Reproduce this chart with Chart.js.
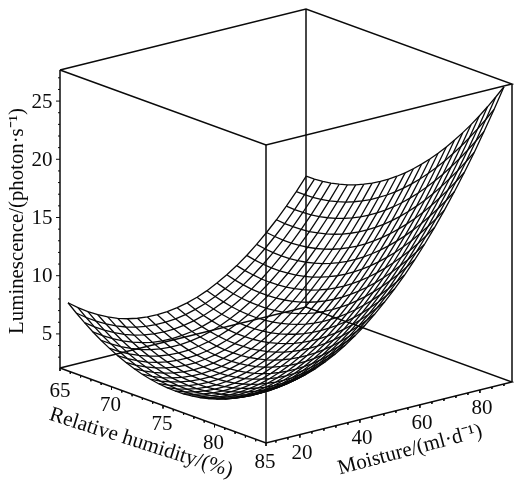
<!DOCTYPE html>
<html>
<head>
<meta charset="utf-8">
<title>Luminescence surface</title>
<script src="https://cdn.jsdelivr.net/npm/chart.js@4"></script>
<style>
    html, body { margin: 0; padding: 0; background: #fff; }
    canvas { display: block; }
</style>
</head>
<body>
<canvas id="surfaceChart" width="514" height="481"></canvas>
<script>
// Mesh coordinates
const humidity = [65.4, 66.2, 67, 67.8, 68.6, 69.4, 70.2, 71, 71.8, 72.6, 73.4, 74.2, 75, 75.8, 76.6, 77.4, 78.2, 79, 79.8, 80.6, 81.4, 82.2, 83, 83.8, 84.6];
const moisture = [10, 13.31, 16.62, 19.93, 23.23, 26.54, 29.85, 33.16, 36.47, 39.78, 43.08, 46.39, 49.7, 53.01, 56.32, 59.63, 62.93, 66.24, 69.55, 72.86, 76.17, 79.48, 82.78, 86.09, 89.4];

// Luminescence: one row per humidity, one column per moisture
const luminescence = [
    [7.72, 7.09, 6.54, 6.06, 5.66, 5.33, 5.08, 4.91, 4.81, 4.79, 4.84, 4.97, 5.17, 5.45, 5.80, 6.24, 6.74, 7.32, 7.98, 8.72, 9.53, 10.41, 11.37, 12.41, 13.52],
    [7.10, 6.50, 5.97, 5.52, 5.15, 4.84, 4.62, 4.47, 4.40, 4.41, 4.48, 4.64, 4.87, 5.17, 5.55, 6.02, 6.54, 7.15, 7.83, 8.60, 9.44, 10.34, 11.33, 12.40, 13.53],
    [6.53, 5.95, 5.46, 5.03, 4.68, 4.40, 4.21, 4.09, 4.04, 4.07, 4.18, 4.36, 4.61, 4.95, 5.35, 5.84, 6.39, 7.03, 7.74, 8.53, 9.39, 10.33, 11.34, 12.43, 13.59],
    [6.00, 5.45, 4.98, 4.58, 4.26, 4.01, 3.83, 3.74, 3.72, 3.78, 3.91, 4.12, 4.40, 4.76, 5.19, 5.71, 6.28, 6.94, 7.68, 8.50, 9.39, 10.35, 11.39, 12.51, 13.70],
    [5.53, 5.01, 4.56, 4.19, 3.89, 3.67, 3.52, 3.46, 3.46, 3.55, 3.70, 3.94, 4.24, 4.63, 5.08, 5.63, 6.24, 6.92, 7.69, 8.53, 9.45, 10.43, 11.50, 12.64, 13.86],
    [5.11, 4.61, 4.19, 3.85, 3.58, 3.38, 3.26, 3.22, 3.25, 3.37, 3.55, 3.81, 4.14, 4.55, 5.03, 5.61, 6.24, 6.95, 7.74, 8.61, 9.55, 10.57, 11.66, 12.83, 14.07],
    [4.73, 4.26, 3.87, 3.54, 3.30, 3.13, 3.04, 3.03, 3.08, 3.22, 3.43, 3.72, 4.08, 4.51, 5.02, 5.62, 6.28, 7.02, 7.83, 8.73, 9.70, 10.74, 11.86, 13.05, 14.32],
    [4.41, 3.96, 3.60, 3.30, 3.09, 2.94, 2.88, 2.89, 2.98, 3.14, 3.37, 3.69, 4.07, 4.54, 5.07, 5.70, 6.38, 7.14, 7.99, 8.91, 9.91, 10.97, 12.12, 13.34, 14.64],
    [4.13, 3.71, 3.37, 3.10, 2.91, 2.79, 2.75, 2.79, 2.91, 3.10, 3.36, 3.70, 4.11, 4.60, 5.16, 5.81, 6.52, 7.31, 8.18, 9.13, 10.15, 11.24, 12.42, 13.67, 14.99],
    [3.90, 3.51, 3.19, 2.95, 2.79, 2.70, 2.68, 2.75, 2.89, 3.10, 3.39, 3.76, 4.19, 4.71, 5.30, 5.98, 6.71, 7.53, 8.43, 9.40, 10.45, 11.57, 12.76, 14.04, 15.39],
    [3.73, 3.36, 3.08, 2.86, 2.72, 2.66, 2.67, 2.76, 2.93, 3.17, 3.48, 3.88, 4.34, 4.88, 5.50, 6.20, 6.96, 7.81, 8.73, 9.73, 10.81, 11.95, 13.17, 14.48, 15.85],
    [3.60, 3.26, 3.00, 2.81, 2.70, 2.66, 2.70, 2.82, 3.01, 3.28, 3.62, 4.04, 4.53, 5.10, 5.74, 6.47, 7.26, 8.12, 9.07, 10.10, 11.20, 12.37, 13.62, 14.95, 16.35],
    [3.52, 3.21, 2.97, 2.81, 2.72, 2.71, 2.78, 2.92, 3.14, 3.43, 3.80, 4.25, 4.76, 5.36, 6.02, 6.78, 7.60, 8.49, 9.47, 10.52, 11.65, 12.85, 14.12, 15.48, 16.90],
    [3.49, 3.20, 2.99, 2.86, 2.80, 2.81, 2.90, 3.08, 3.32, 3.64, 4.03, 4.51, 5.05, 5.67, 6.36, 7.15, 7.99, 8.91, 9.91, 11.00, 12.15, 13.37, 14.67, 16.06, 17.51],
    [3.51, 3.25, 3.07, 2.96, 2.92, 2.96, 3.08, 3.28, 3.55, 3.90, 4.32, 4.82, 5.38, 6.03, 6.75, 7.56, 8.43, 9.38, 10.41, 11.52, 12.69, 13.94, 15.27, 16.68, 18.16],
    [3.58, 3.35, 3.19, 3.11, 3.10, 3.17, 3.31, 3.54, 3.83, 4.21, 4.65, 5.18, 5.77, 6.45, 7.19, 8.03, 8.92, 9.90, 10.95, 12.09, 13.29, 14.57, 15.92, 17.36, 18.86],
    [3.70, 3.49, 3.36, 3.30, 3.33, 3.42, 3.59, 3.84, 4.16, 4.56, 5.03, 5.59, 6.21, 6.91, 7.68, 8.54, 9.46, 10.46, 11.55, 12.71, 13.94, 15.24, 16.62, 18.08, 19.61],
    [3.87, 3.69, 3.59, 3.55, 3.60, 3.72, 3.92, 4.19, 4.54, 4.97, 5.47, 6.04, 6.69, 7.42, 8.22, 9.11, 10.05, 11.08, 12.19, 13.38, 14.63, 15.96, 17.37, 18.86, 20.41],
    [4.08, 3.92, 3.85, 3.84, 3.92, 4.06, 4.28, 4.59, 4.96, 5.42, 5.94, 6.55, 7.22, 7.97, 8.80, 9.71, 10.69, 11.74, 12.87, 14.09, 15.37, 16.73, 18.16, 19.67, 21.26],
    [4.35, 4.22, 4.17, 4.19, 4.29, 4.46, 4.71, 5.04, 5.44, 5.92, 6.47, 7.10, 7.80, 8.59, 9.44, 10.38, 11.38, 12.46, 13.62, 14.86, 16.17, 17.55, 19.01, 20.55, 22.16],
    [4.66, 4.56, 4.53, 4.58, 4.71, 4.90, 5.18, 5.54, 5.96, 6.47, 7.05, 7.70, 8.43, 9.24, 10.11, 11.08, 12.11, 13.21, 14.40, 15.67, 17.00, 18.41, 19.90, 21.46, 23.10],
    [5.03, 4.95, 4.96, 5.03, 5.18, 5.41, 5.71, 6.09, 6.54, 7.08, 7.68, 8.36, 9.12, 9.95, 10.85, 11.85, 12.90, 14.03, 15.25, 16.54, 17.90, 19.34, 20.85, 22.44, 24.10],
    [5.44, 5.39, 5.42, 5.52, 5.70, 5.95, 6.28, 6.69, 7.17, 7.72, 8.35, 9.06, 9.84, 10.70, 11.63, 12.65, 13.73, 14.89, 16.13, 17.45, 18.84, 20.30, 21.84, 23.46, 25.15],
    [5.91, 5.89, 5.94, 6.07, 6.27, 6.55, 6.90, 7.34, 7.85, 8.43, 9.09, 9.82, 10.63, 11.52, 12.47, 13.52, 14.62, 15.81, 17.07, 18.42, 19.84, 21.32, 22.89, 24.53, 26.25],
    [6.42, 6.42, 6.50, 6.66, 6.89, 7.19, 7.57, 8.03, 8.57, 9.18, 9.86, 10.62, 11.46, 12.37, 13.35, 14.42, 15.55, 16.77, 18.06, 19.43, 20.87, 22.38, 23.98, 25.65, 27.39]
];

// Axis ranges and tick labels
const humidityRange = [65, 85];
const moistureRange = [8.7, 90.7];
const luminescenceRange = [2.07, 27.67];
const humidityTicks = [65, 70, 75, 80, 85];
const moistureTicks = [20, 40, 60, 80];
const luminescenceTicks = [5, 10, 15, 20, 25];

const humidityTitle = 'Relative humidity/(%)';
const moistureTitle = 'Moisture/(ml·d⁻¹)';
const luminescenceTitle = 'Luminescence/(photon·s⁻¹)';

const serif = '"Liberation Serif", "Times New Roman", serif';

// Parallel projection of the box onto the page
function project(h, m, z) {
    const a = (h - humidityRange[0]) / (humidityRange[1] - humidityRange[0]);
    const b = (m - moistureRange[0]) / (moistureRange[1] - moistureRange[0]);
    const c = (z - luminescenceRange[0]) / (luminescenceRange[1] - luminescenceRange[0]);
    return {
        x: 60 + 206 * a + 246 * b,
        y: 368 + 75 * a - 61 * b - 298 * c
    };
}

function line(points, width) {
    return {
        data: points,
        showLine: true,
        tension: 0,
        pointRadius: 0,
        borderColor: '#0a0a0a',
        borderWidth: width
    };
}

const datasets = [];

// Wireframe, both directions
humidity.forEach((h, i) => {
    datasets.push(line(moisture.map((m, j) => project(h, m, luminescence[i][j])), 1.3));
});
moisture.forEach((m, j) => {
    datasets.push(line(humidity.map((h, i) => project(h, m, luminescence[i][j])), 1.3));
});

// Box edges
const [h0, h1] = humidityRange;
const [m0, m1] = moistureRange;
const [z0, z1] = luminescenceRange;
[z0, z1].forEach(z => {
    datasets.push(line([project(h0, m0, z), project(h1, m0, z), project(h1, m1, z), project(h0, m1, z), project(h0, m0, z)], 1.5));
});
[[h0, m0], [h1, m0], [h1, m1], [h0, m1]].forEach(([h, m]) => {
    datasets.push(line([project(h, m, z0), project(h, m, z1)], 1.5));
});

// Tick marks along the three labelled axes
for (let h = 65; h <= 85; h++) {
    const p = project(h, m0, z0);
    const len = h % 5 === 0 ? 3 : 2;
    datasets.push(line([p, { x: p.x, y: p.y + len }], 1));
}
for (let m = 12; m <= 90; m += 4) {
    const p = project(h1, m, z0);
    const len = m % 20 === 0 ? 3 : 2;
    datasets.push(line([p, { x: p.x, y: p.y + len }], 1));
}
for (let z = 3; z <= 27; z++) {
    const p = project(h0, m0, z);
    const len = z % 5 === 0 ? 4 : 2;
    datasets.push(line([{ x: p.x - len, y: p.y }, p], 1));
}

// Tick labels and axis titles are drawn after the datasets
const axisText = {
    id: 'axisText',
    afterDraw(chart) {
        const ctx = chart.ctx;
        const sx = chart.scales.x;
        const sy = chart.scales.y;
        const put = (text, p, dx, dy, size, angle) => {
            ctx.save();
            ctx.translate(sx.getPixelForValue(p.x) + dx, sy.getPixelForValue(p.y) + dy);
            ctx.rotate(angle * Math.PI / 180);
            ctx.font = size + 'px ' + serif;
            ctx.fillStyle = '#0a0a0a';
            ctx.textAlign = 'center';
            ctx.textBaseline = 'middle';
            ctx.fillText(text, 0, 0);
            ctx.restore();
        };
        humidityTicks.forEach(h => put(String(h), project(h, m0, z0), h === 65 ? 0 : -1, h === 65 ? 23 : 19, 21, 0));
        moistureTicks.forEach(m => put(String(m), project(h1, m, z0), 2, 19, 21, 0));
        luminescenceTicks.forEach(z => put(String(z), project(h0, m0, z), z < 10 ? -13 : -18, 1, 21, 0));
        put(humidityTitle, { x: 141, y: 443 }, 0, 0, 21.3, 17.5);
        put(moistureTitle, { x: 410, y: 450 }, 0, 0, 21, -15);
        put(luminescenceTitle, { x: 18, y: 221 }, 0, 0, 20.8, -90);
    }
};

new Chart(document.getElementById('surfaceChart'), {
    type: 'scatter',
    data: { datasets: datasets },
    options: {
        responsive: false,
        animation: false,
        layout: { padding: 0 },
        scales: {
            x: { type: 'linear', display: false, min: 0, max: 514 },
            y: { type: 'linear', display: false, min: 0, max: 481, reverse: true }
        },
        plugins: {
            legend: { display: false },
            tooltip: { enabled: false }
        }
    },
    plugins: [axisText]
});
</script>
</body>
</html>
